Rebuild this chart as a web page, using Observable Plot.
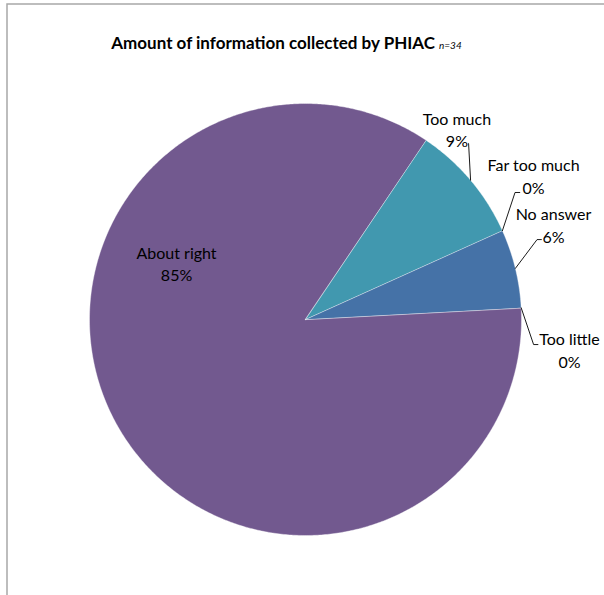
<!DOCTYPE html>
<html>
<head>
<meta charset="utf-8">
<script src="https://cdn.jsdelivr.net/npm/d3@7"></script>
<script src="https://cdn.jsdelivr.net/npm/@observablehq/plot@0.6"></script>
<style>
  html, body { margin: 0; padding: 0; background: #fff; overflow: hidden; }
</style>
</head>
<body>
<div id="chart"></div>
<script>
// ---- data ----
const categories = ["About right", "Too much", "Far too much", "No answer", "Too little"];
const counts = [29, 3, 0, 2, 0];
const colors = ["#72598F", "#4198AF", "#AA4643", "#4572A7", "#89A54E"];
const title = "Amount of information collected by PHIAC";
const subtitle = "n=34";

// ---- layout (radius units, centre of pie = 0,0) ----
const startDeg = 86.9;
const labelLayout = {
  "About right":  {lx: -0.597, ly: 0.262, leader: null},
  "Too much":     {lx: 0.701, ly: 0.882, leader: [[0.755, 0.815], [0.755, 0.815]]},
  "Far too much": {lx: 1.056, ly: 0.667, leader: [[0.970, 0.588], [0.992, 0.588]]},
  "No answer":    {lx: 1.148, ly: 0.440, leader: [[1.072, 0.370], [1.092, 0.370]]},
  "Too little":   {lx: 1.222, ly: -0.139, leader: [[1.056, -0.116], [1.076, -0.116]]}
};

const total = d3.sum(counts);
const data = categories.map((c, i) => ({category: c, value: counts[i]}));
const a0 = startDeg * Math.PI / 180;
const arcs = d3.pie().sort(null).value(d => d.value).startAngle(a0).endAngle(a0 + 2 * Math.PI)(data);

// slice polygons
const slicePts = [];
for (const a of arcs) {
  if (a.data.value <= 0) continue;
  slicePts.push({category: a.data.category, x: 0, y: 0});
  const n = Math.max(2, Math.ceil((a.endAngle - a.startAngle) / (Math.PI / 360)));
  for (let k = 0; k <= n; k++) {
    const t = a.startAngle + (a.endAngle - a.startAngle) * k / n;
    slicePts.push({category: a.data.category, x: Math.sin(t), y: Math.cos(t)});
  }
}

// leader lines and labels
const leaderPts = [];
const labels = [];
for (const a of arcs) {
  const c = a.data.category;
  const L = labelLayout[c];
  const pct = Math.round(a.data.value / total * 100) + "%";
  labels.push({category: c, x: L.lx, y: L.ly, text: c + "\n" + pct});
  if (L.leader) {
    const m = (a.startAngle + a.endAngle) / 2;
    leaderPts.push({category: c, x: Math.sin(m), y: Math.cos(m)});
    for (const p of L.leader) leaderPts.push({category: c, x: p[0], y: p[1]});
  }
}

const W = 604, H = 595, cx = 305, cy = 319, R = 216;

const plot = Plot.plot({
  width: W,
  height: H,
  margin: 0,
  x: {domain: [-cx / R, (W - cx) / R], axis: null},
  y: {domain: [-(H - cy) / R, cy / R], axis: null},
  color: {domain: categories, range: colors},
  style: {fontFamily: "Lato, 'Liberation Sans', sans-serif", background: "#fff", overflow: "hidden"},
  marks: [
    Plot.frame({stroke: "#a8a8a8", strokeWidth: 1.5, insetLeft: 6.5, insetTop: 3.5, insetRight: -10, insetBottom: -10}),
    Plot.line(slicePts, {x: "x", y: "y", z: "category", fill: "category", stroke: "#ffffff", strokeOpacity: 0.55, strokeWidth: 0.7, curve: "linear-closed"}),
    Plot.line(leaderPts, {x: "x", y: "y", z: "category", stroke: "#000", strokeWidth: 0.9}),
    Plot.text(labels, {x: "x", y: "y", text: "text", fontSize: 16, lineHeight: 1.4, fill: "#000"}),
    Plot.text([title], {frameAnchor: "top", dx: -16, dy: 43, lineAnchor: "middle", fontSize: 17, fontWeight: "bold", fill: "#000", className: "chart-title"})
  ]
});

d3.select(plot).select("g.chart-title text, .chart-title text")
  .append("tspan")
  .attr("font-size", 10)
  .attr("font-style", "italic")
  .attr("font-weight", "normal")
  .attr("dx", 4)
  .text(subtitle);

document.getElementById("chart").appendChild(plot);
</script>
</body>
</html>
